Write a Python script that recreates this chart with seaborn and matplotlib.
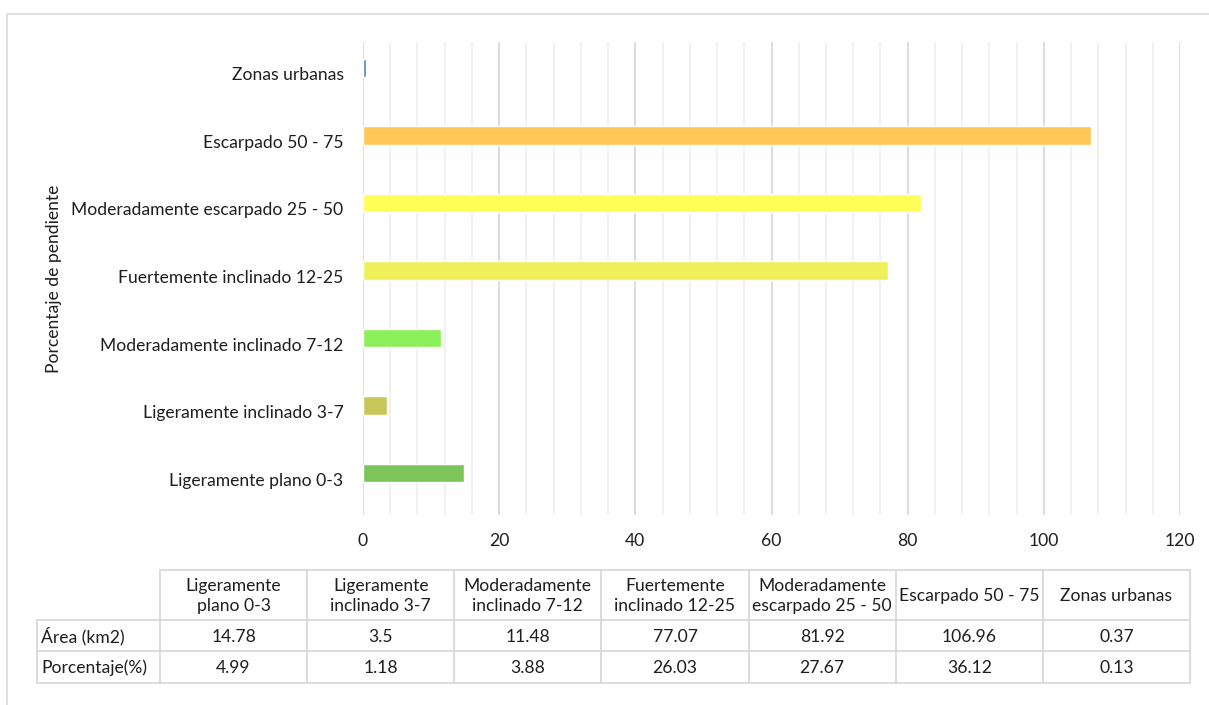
import matplotlib
matplotlib.use("Agg")
import matplotlib.pyplot as plt
import matplotlib.transforms as mtransforms
import seaborn as sns
import pandas as pd
from matplotlib.ticker import MultipleLocator

# Slope classes (bottom to top as listed in the table) and their values
categorias = [
    "Ligeramente plano 0-3",
    "Ligeramente inclinado 3-7",
    "Moderadamente inclinado 7-12",
    "Fuertemente inclinado 12-25",
    "Moderadamente escarpado 25 - 50",
    "Escarpado 50 - 75",
    "Zonas urbanas",
]
encabezados = [
    "Ligeramente\nplano 0-3",
    "Ligeramente\ninclinado 3-7",
    "Moderadamente\ninclinado 7-12",
    "Fuertemente\ninclinado 12-25",
    "Moderadamente\nescarpado 25 - 50",
    "Escarpado 50 - 75",
    "Zonas urbanas",
]
area_km2 = [14.78, 3.5, 11.48, 77.07, 81.92, 106.96, 0.37]
porcentaje = [4.99, 1.18, 3.88, 26.03, 27.67, 36.12, 0.13]
colores = ["#7DC45A", "#C8C85A", "#8CF05A", "#F0F05A", "#FFFF57", "#FFC658", "#4E86C6"]

sns.set_theme(style="white")
plt.rcParams["font.family"] = ["Lato", "DejaVu Sans"]
TXT = "#1e1e1e"
FS = 12.6

df = pd.DataFrame({"cat": categorias, "area": area_km2})
orden = categorias[::-1]
paleta = dict(zip(categorias, colores))

W, H = 1209, 705
fig = plt.figure(figsize=(W / 100, H / 100), dpi=100)

# Overlay for frame and data table (pixel coordinates)
ov = fig.add_axes([0, 0, 1, 1], zorder=0)
ov.set_xlim(0, W)
ov.set_ylim(H, 0)
ov.axis("off")
ov.plot([7, 7, W + 5], [H + 5, 14, 14], color="#d9d9d9", lw=1.2)

ax = fig.add_axes([363 / W, 1 - 515 / H, (1180 - 363) / W, (515 - 42) / H], zorder=1)
ax.patch.set_alpha(0)
sns.barplot(data=df, x="area", y="cat", hue="cat", order=orden, hue_order=orden,
            palette=paleta, legend=False, width=0.27, saturation=1, ax=ax, zorder=3)
ax.set_xlim(0, 120)
ax.set_ylim(6.622, -0.385)
ax.xaxis.set_major_locator(MultipleLocator(20))
ax.xaxis.set_minor_locator(MultipleLocator(4))
ax.grid(axis="x", which="minor", color="#f0f0f0", lw=1.3, zorder=0)
ax.grid(axis="x", which="major", color="#d9d9d9", lw=1.3, zorder=0)
ax.grid(axis="y", visible=False)
for s in ax.spines.values():
    s.set_visible(False)
ax.tick_params(axis="x", which="both", length=0, pad=13, labelsize=FS, labelcolor=TXT)
ax.tick_params(axis="y", length=0, pad=14, labelsize=FS, labelcolor=TXT)
# category labels sit slightly below their bars
shift = mtransforms.ScaledTranslation(0, -6 / 100, fig.dpi_scale_trans)
for lab in ax.get_yticklabels():
    lab.set_transform(lab.get_transform() + shift)
ax.set_xlabel("")
ax.set_ylabel("Porcentaje de pendiente", fontsize=FS, color=TXT)
ax.yaxis.set_label_coords(62 / W, 1 - 279 / H, transform=fig.transFigure)

# Data table
lc = "#d9d9d9"
x0, xl = 37, 160
cw = (1190 - 160) / 7
y_top, y_h, y_r1, y_bot = 570, 620, 651, 683
ov.plot([xl, 1190], [y_top, y_top], color=lc, lw=1.3)
for yy in (y_h, y_r1, y_bot):
    ov.plot([x0, 1190], [yy, yy], color=lc, lw=1.3)
ov.plot([x0, x0], [y_h, y_bot], color=lc, lw=1.3)
for k in range(8):
    xx = xl + k * cw
    ov.plot([xx, xx], [y_top, y_bot], color=lc, lw=1.3)
for k in range(7):
    cx = xl + (k + 0.5) * cw
    ov.text(cx, (y_top + y_h) / 2 + 1, encabezados[k], ha="center", va="center",
            fontsize=FS, color=TXT, linespacing=1.3)
    ov.text(cx, (y_h + y_r1) / 2 + 1, f"{area_km2[k]:g}", ha="center", va="center",
            fontsize=FS, color=TXT)
    ov.text(cx, (y_r1 + y_bot) / 2 + 1, f"{porcentaje[k]:.2f}", ha="center", va="center",
            fontsize=FS, color=TXT)
ov.text(x0 + 4, (y_h + y_r1) / 2 + 1, "Área (km2)", ha="left", va="center", fontsize=FS, color=TXT)
ov.text(x0 + 4, (y_r1 + y_bot) / 2 + 1, "Porcentaje(%)", ha="left", va="center", fontsize=FS, color=TXT)

fig.savefig("out.png", dpi=100, facecolor="white")
